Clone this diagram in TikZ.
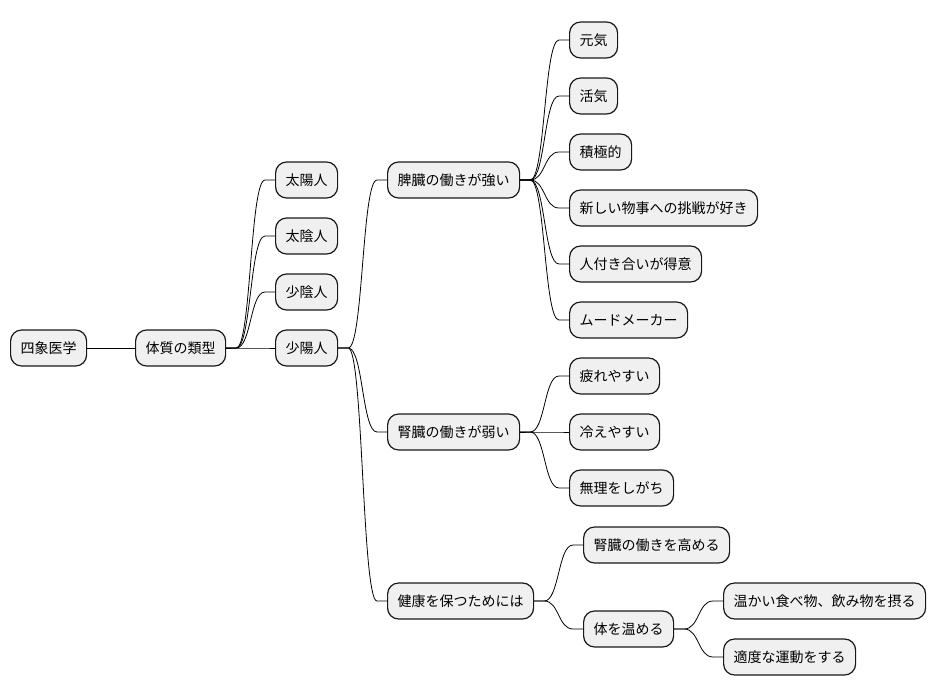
\documentclass[tikz,border=0pt]{standalone}
\usepackage{fontspec}
\newfontfamily\jpfont{Noto Sans CJK JP}
\tikzset{
  topic/.style={draw=black!90, fill=black!6, line width=1.2pt, rounded corners=11pt,
    minimum height=36pt, inner xsep=10pt, anchor=west, font=\jpfont\fontsize{14}{16}\selectfont},
  link/.style={line width=0.8pt, to path={(\tikztostart.east) -- ++(10,0)
    .. controls +(15,0) and +(-15,0) .. ([xshift=-10pt]\tikztotarget.west) -- (\tikztotarget.west)}}
}
\begin{document}
\begin{tikzpicture}[x=1pt,y=-1pt]
    \useasboundingbox (0,0) rectangle (936,696);
    % levels
    \node[topic] (root) at (10,348) {四象医学};
    \node[topic] (kind) at (135,348) {体質の類型};
    \node[topic] (taiyo) at (275,180) {太陽人};
    \node[topic] (taiin) at (275,236) {太陰人};
    \node[topic] (shoin) at (275,292) {少陰人};
    \node[topic] (shoyo) at (275,348) {少陽人};
    \node[topic] (hizo) at (387,180) {脾臓の働きが強い};
    \node[topic] (jinzo) at (387,432) {腎臓の働きが弱い};
    \node[topic] (kenko) at (387,601) {健康を保つためには};
    \node[topic] (genki) at (569,40) {元気};
    \node[topic] (kakki) at (569,96) {活気};
    \node[topic] (sekkyoku) at (569,152) {積極的};
    \node[topic] (chosen) at (569,208) {新しい物事への挑戦が好き};
    \node[topic] (tsukiai) at (569,264) {人付き合いが得意};
    \node[topic] (mood) at (569,320) {ムードメーカー};
    \node[topic] (tsukare) at (569,376) {疲れやすい};
    \node[topic] (hie) at (569,432) {冷えやすい};
    \node[topic] (muri) at (569,488) {無理をしがち};
    \node[topic] (takameru) at (583,545) {腎臓の働きを高める};
    \node[topic] (atatame) at (583,629) {体を温める};
    \node[topic] (shoku) at (723,601) {温かい食べ物、飲み物を摂る};
    \node[topic] (undo) at (723,657) {適度な運動をする};
    % links
    \draw (root) -- (kind);
    \foreach \c in {taiyo,taiin,shoin,shoyo} \draw[link] (kind) to (\c);
    \foreach \c in {hizo,jinzo,kenko} \draw[link] (shoyo) to (\c);
    \foreach \c in {genki,kakki,sekkyoku,chosen,tsukiai,mood} \draw[link] (hizo) to (\c);
    \foreach \c in {tsukare,hie,muri} \draw[link] (jinzo) to (\c);
    \foreach \c in {takameru,atatame} \draw[link] (kenko) to (\c);
    \foreach \c in {shoku,undo} \draw[link] (atatame) to (\c);
\end{tikzpicture}
\end{document}
